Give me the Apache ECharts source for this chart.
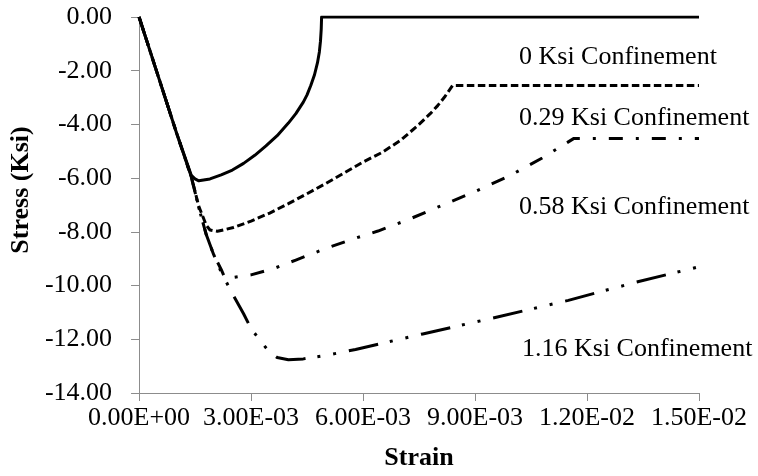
<!DOCTYPE html>
<html>
<head>
<meta charset="utf-8">
<script src="https://cdn.jsdelivr.net/npm/echarts@6/dist/echarts.min.js"></script>
<style>
html,body{margin:0;padding:0;background:#fff;}
#chart{width:758px;height:476px;}
</style>
</head>
<body>
<div id="chart"></div>
<script>
// ---- data ----
const xTickValues = [0, 0.003, 0.006, 0.009, 0.012, 0.015];
const xTickLabels = ['0.00E+00', '3.00E-03', '6.00E-03', '9.00E-03', '1.20E-02', '1.50E-02'];
const yTickValues = [0, -2, -4, -6, -8, -10, -12, -14];
const yTickLabels = ['0.00', '-2.00', '-4.00', '-6.00', '-8.00', '-10.00', '-12.00', '-14.00'];

const seriesNames = ['0 Ksi Confinement', '0.29 Ksi Confinement', '0.58 Ksi Confinement', '1.16 Ksi Confinement'];

const strain0 = [0, 0.0005, 0.001, 0.0014, 0.0015, 0.0016, 0.0019, 0.0022, 0.0025, 0.0028, 0.0031, 0.0034, 0.0037, 0.004, 0.0042, 0.0044, 0.0045, 0.0046, 0.0047, 0.00478, 0.00483, 0.00486, 0.00488, 0.00489, 0.015];
const stress0 = [0, -2.15, -4.3, -5.9, -6.03, -6.1, -6.03, -5.88, -5.7, -5.45, -5.15, -4.8, -4.42, -3.95, -3.6, -3.17, -2.9, -2.55, -2.15, -1.7, -1.3, -0.9, -0.45, 0, 0];

const strain029 = [0, 0.0005, 0.001, 0.0014, 0.0016, 0.0018, 0.0019, 0.0021, 0.0025, 0.003, 0.0035, 0.004, 0.0045, 0.005, 0.0055, 0.006, 0.0065, 0.007, 0.0075, 0.0078, 0.008, 0.0082, 0.0084, 0.015];
const stress029 = [0, -2.15, -4.3, -5.95, -7.05, -7.75, -7.93, -7.98, -7.85, -7.6, -7.3, -6.95, -6.58, -6.2, -5.8, -5.4, -5.05, -4.6, -4.0, -3.6, -3.3, -2.95, -2.55, -2.55];

const strain058 = [0, 0.0005, 0.001, 0.0014, 0.0016, 0.0018, 0.002, 0.0022, 0.0023, 0.0025, 0.003, 0.0036, 0.0042, 0.005, 0.0057, 0.0064, 0.0072, 0.008, 0.009, 0.0099, 0.0108, 0.0115, 0.01165, 0.015];
const stress058 = [0, -2.15, -4.3, -5.95, -7.1, -8.1, -8.85, -9.4, -9.72, -9.7, -9.6, -9.37, -9.05, -8.62, -8.28, -7.97, -7.55, -7.08, -6.5, -5.93, -5.25, -4.65, -4.52, -4.52];

const strain116 = [0, 0.0005, 0.001, 0.0014, 0.0016, 0.0018, 0.002, 0.0022, 0.0025, 0.0028, 0.003, 0.0033, 0.0035, 0.0037, 0.004, 0.0044, 0.005, 0.0058, 0.0076, 0.0096, 0.0115, 0.0133, 0.015];
const stress116 = [0, -2.15, -4.3, -5.95, -7.1, -8.1, -8.85, -9.5, -10.3, -11.05, -11.6, -12.15, -12.48, -12.68, -12.76, -12.73, -12.6, -12.38, -11.8, -11.17, -10.55, -9.88, -9.3];

// ---- build ----
function zip(xs, ys) { return xs.map((x, i) => [x, ys[i]]); }
function nearestLabel(values, labels, v) {
  let best = 0;
  for (let i = 1; i < values.length; i++) {
    if (Math.abs(values[i] - v) < Math.abs(values[best] - v)) best = i;
  }
  return labels[best];
}

const FONT = "'Liberation Serif', 'Times New Roman', serif";
const chart = echarts.init(document.getElementById('chart'), null, { renderer: 'canvas' });

const styles = [
  { type: 'solid' },
  { type: [7.5, 3.5] },
  { type: [14, 13, 3, 13] },
  { type: [30, 12, 3, 13, 3, 13] }
];
const datasets = [zip(strain0, stress0), zip(strain029, stress029), zip(strain058, stress058), zip(strain116, stress116)];

const option = {
  animation: false,
  backgroundColor: '#ffffff',
  grid: { left: 137, right: 59, top: 17, bottom: 83, containLabel: false },
  xAxis: {
    type: 'value',
    min: 0, max: 0.015, interval: 0.003,
    name: 'Strain',
    nameLocation: 'middle',
    nameGap: 52,
    nameTextStyle: { fontFamily: FONT, fontSize: 26, fontWeight: 'bold', color: '#000' },
    axisLine: { show: true, onZero: false, lineStyle: { color: '#8c8c8c', width: 1 } },
    axisTick: { show: true, inside: false, length: 8, lineStyle: { color: '#8c8c8c' } },
    splitLine: { show: false },
    axisLabel: {
      fontFamily: FONT, fontSize: 26, color: '#000', margin: 12,
      formatter: v => nearestLabel(xTickValues, xTickLabels, v)
    }
  },
  yAxis: {
    type: 'value',
    min: -14, max: 0, interval: 2,
    name: 'Stress (Ksi)',
    nameLocation: 'middle',
    nameGap: 85,
    nameRotate: 90,
    nameTextStyle: { fontFamily: FONT, fontSize: 26, fontWeight: 'bold', color: '#000', padding: [0, 0, 0, 30] },
    axisLine: { show: true, onZero: false, lineStyle: { color: '#8c8c8c', width: 1 } },
    axisTick: { show: true, inside: false, length: 8, lineStyle: { color: '#8c8c8c' } },
    splitLine: { show: false },
    axisLabel: {
      fontFamily: FONT, fontSize: 26, color: '#000', margin: 27,
      formatter: v => nearestLabel(yTickValues, yTickLabels, v)
    }
  },
  series: datasets.map((d, i) => ({
    name: seriesNames[i],
    type: 'line',
    data: d,
    showSymbol: false,
    symbol: 'none',
    smooth: false,
    lineStyle: { color: '#000', width: 3, type: styles[i].type, cap: 'butt', join: 'round' },
    z: 3
  })),
  graphic: [
    { type: 'text', left: 519, top: 44, style: { text: seriesNames[0], font: '26px ' + FONT, fill: '#000', textVerticalAlign: 'middle' } },
    { type: 'text', left: 519, top: 105, style: { text: seriesNames[1], font: '26px ' + FONT, fill: '#000', textVerticalAlign: 'middle' } },
    { type: 'text', left: 519, top: 194, style: { text: seriesNames[2], font: '26px ' + FONT, fill: '#000', textVerticalAlign: 'middle' } },
    { type: 'text', left: 522, top: 336, style: { text: seriesNames[3], font: '26px ' + FONT, fill: '#000', textVerticalAlign: 'middle' } }
  ]
};
chart.setOption(option);
</script>
</body>
</html>
